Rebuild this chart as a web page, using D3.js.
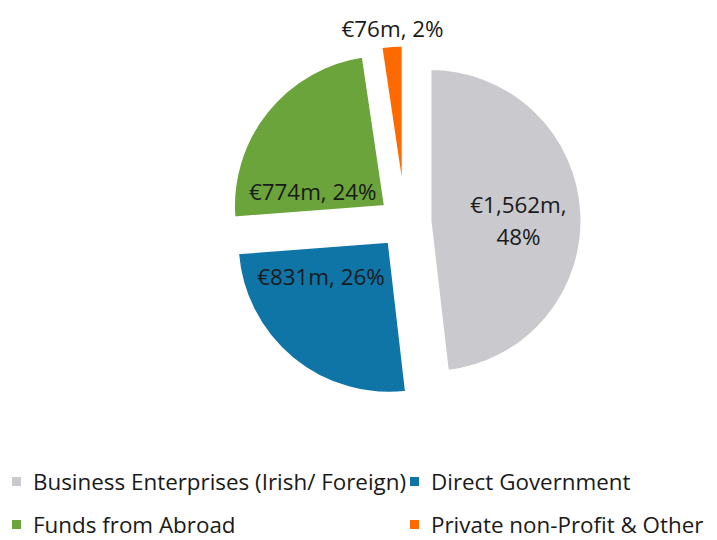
<!DOCTYPE html>
<head>
    <meta charset="utf-8">
    <title>R&D funding sources</title>
    <script src="https://cdn.jsdelivr.net/npm/d3@7"></script>
</head>

<body style="margin:0; background:#fff;">

<div id="container"></div>

<script type="text/javascript">
    // chart data
    const categories = ["Business Enterprises (Irish/ Foreign)", "Direct Government", "Funds from Abroad", "Private non-Profit & Other"];
    const values = [1562, 831, 774, 76];
    const colors = ["#c9c9ce", "#0f75a7", "#6ba43a", "#ff6a00"];

    const width = 717, height = 540;
    const cx = 405, cy = 222, radius = 152, explode = 25;
    const font = "'Segoe UI', 'Open Sans', sans-serif";
    const fontSize = 22.4;

    const svg = d3.select("#container")
        .append("svg")
        .attr("width", width)
        .attr("height", height)
        .style("font-family", font);

    const data = categories.map((c, i) => ({name: c, value: values[i], color: colors[i]}));
    const total = d3.sum(values);

    const pie = d3.pie()
        .value(d => d.value)
        .sort(null);

    const arc = d3.arc()
        .innerRadius(0)
        .outerRadius(radius);

    const arcs = pie(data);
    const mid = d => (d.startAngle + d.endAngle) / 2;

    const g = svg.append("g")
        .attr("transform", `translate(${cx},${cy})`);

    // exploded slices
    const slices = g.selectAll("g.slice")
        .data(arcs)
        .join("g")
        .attr("class", "slice")
        .attr("transform", d => `translate(${Math.sin(mid(d)) * explode},${-Math.cos(mid(d)) * explode})`);

    slices.append("path")
        .attr("d", arc)
        .attr("fill", d => d.data.color)
        .attr("stroke", "#fff")
        .attr("stroke-width", 3)
        .attr("stroke-linejoin", "miter");

    // data labels: inside for large slices, outside for the small one
    const fmt = d3.format(",");
    const wrapped = ["Business Enterprises (Irish/ Foreign)"];
    // small nudges so labels sit where the original had them
    const nudge = {
        "Business Enterprises (Irish/ Foreign)": [2, 6],
        "Direct Government": [-13, -31],
        "Funds from Abroad": [-5, 40],
        "Private non-Profit & Other": [2, 3]
    };

    slices.each(function (d) {
        const share = Math.round(d.value / total * 100);
        const outside = share < 5;
        const r = outside ? radius * 1.13 : radius * 0.57;
        const off = nudge[d.data.name] || [0, 0];
        const x = Math.sin(mid(d)) * r + off[0];
        const y = -Math.cos(mid(d)) * r + off[1];
        const lines = wrapped.includes(d.data.name)
            ? [`€${fmt(d.value)}m,`, `${share}%`]
            : [`€${fmt(d.value)}m, ${share}%`];
        const t = d3.select(this).append("text")
            .attr("text-anchor", "middle")
            .attr("font-size", fontSize)
            .attr("fill", "#1a1a1a");
        lines.forEach((l, i) => {
            t.append("tspan")
                .attr("x", x)
                .attr("y", y + (i - (lines.length - 1) / 2) * 32)
                .attr("dy", "0.35em")
                .text(l);
        });
    });

    // legend, two columns
    const legend = svg.append("g")
        .selectAll("g")
        .data(data)
        .join("g")
        .attr("transform", (d, i) => `translate(${i % 2 ? 410 : 12},${i < 2 ? 482 : 525})`);

    legend.append("rect")
        .attr("x", 0)
        .attr("y", -5)
        .attr("width", 9)
        .attr("height", 9)
        .attr("fill", d => d.color);

    legend.append("text")
        .attr("x", 21)
        .attr("dy", "0.35em")
        .attr("font-size", fontSize)
        .attr("fill", "#1a1a1a")
        .text(d => d.name);
</script>
</body>
